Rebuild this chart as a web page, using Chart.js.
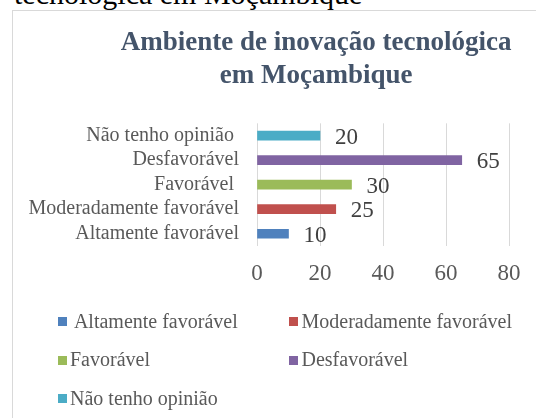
<!DOCTYPE html>
<html><head><meta charset="utf-8">
<script src="https://cdn.jsdelivr.net/npm/chart.js@4.4.1/dist/chart.umd.min.js"></script>
<style>
html,body{margin:0;padding:0;width:536px;height:418px;overflow:hidden;background:#fff;}
body{position:relative;}
#top{position:absolute;left:14px;top:-21px;font:30px/30px "Liberation Serif";color:#000;white-space:pre;}
#frame{position:absolute;left:12px;top:10px;width:640px;height:500px;border:1px solid #D9D9D9;box-sizing:border-box;}
#wrap{position:absolute;left:13px;top:10px;width:609px;height:408px;}
.box{position:absolute;width:9px;height:9px;}
.txt{position:absolute;font:20px/24px "Liberation Serif";color:#595959;white-space:pre;}
</style></head>
<body>
<div id="top">tecnológica em Moçambique</div>
<div id="frame"></div>
<div id="wrap"><canvas id="c" width="609" height="408"></canvas></div>
<div id="legend"></div>
<script>
const categories = [" Altamente favorável", "Moderadamente favorável", "Favorável ", "Desfavorável", "Não tenho opinião "];
const values = [10, 25, 30, 65, 20];
const colors = ["#4F81BD", "#C0504D", "#9BBB59", "#8064A2", "#4BACC6"];
const xTicks = [0, 20, 40, 60, 80];
const titleLines = ["Ambiente de inovação tecnológica", "em Moçambique"];

const dataLabels = {
  id: 'dataLabels',
  afterDatasetsDraw(chart) {
    const ctx = chart.ctx;
    const meta = chart.getDatasetMeta(0);
    ctx.save();
    ctx.font = '23px "Liberation Serif"';
    ctx.fillStyle = '#404040';
    ctx.textAlign = 'left';
    ctx.textBaseline = 'middle';
    meta.data.forEach((bar, i) => {
      ctx.fillText(String(values[i]), bar.x + 15, bar.y + 2);
    });
    ctx.restore();
  }
};

new Chart(document.getElementById('c'), {
  type: 'bar',
  data: {
    labels: categories,
    datasets: [{ data: values, backgroundColor: colors, barThickness: 9, yAxisID: 'y' }]
  },
  options: {
    indexAxis: 'y',
    responsive: false,
    animation: false,
    layout: { padding: { left: 13, right: 15.6, top: 0, bottom: 112 } },
    plugins: {
      legend: { display: false },
      tooltip: { enabled: false },
      title: {
        display: true,
        text: titleLines,
        color: '#44546A',
        font: { family: 'Liberation Serif', size: 27, weight: 'bold', lineHeight: 1.21 },
        padding: { top: 17, bottom: 31 }
      }
    },
    scales: {
      x: {
        min: xTicks[0], max: xTicks[xTicks.length - 1],
        ticks: { stepSize: xTicks[1] - xTicks[0], color: '#595959', font: { family: 'Liberation Serif', size: 23 }, padding: 14 },
        grid: { color: '#D9D9D9', drawTicks: false },
        border: { display: false },
        afterFit(s) { s.height = 60; }
      },
      y: {
        reverse: true,
        position: 'left',
        ticks: { color: '#595959', font: { family: 'Liberation Serif', size: 20 }, padding: 18, autoSkip: false },
        grid: { display: false, drawTicks: false },
        border: { display: false },
        afterFit(s) { s.width = 231; }
      },
      yRight: {
        axis: 'y',
        type: 'category',
        position: 'right',
        ticks: { display: false },
        grid: { display: false, drawTicks: false },
        border: { display: false },
        afterFit(s) { s.width = 97.4; }
      }
    }
  },
  plugins: [dataLabels]
});

// HTML legend (2-column grid)
const legend = document.getElementById('legend');
const colX = [57.5, 289];
const rowBase = [327.7, 366.2, 404.7];
categories.forEach((name, i) => {
  const cx = colX[i % 2], base = rowBase[Math.floor(i / 2)];
  const b = document.createElement('div');
  b.className = 'box'; b.style.background = colors[i];
  b.style.left = cx + 'px'; b.style.top = (base - 10.5) + 'px';
  const t = document.createElement('div');
  t.className = 'txt'; t.textContent = name;
  t.style.left = (cx + 12.5) + 'px'; t.style.top = (base - 18.75) + 'px';
  legend.appendChild(b); legend.appendChild(t);
});
</script>
</body></html>
